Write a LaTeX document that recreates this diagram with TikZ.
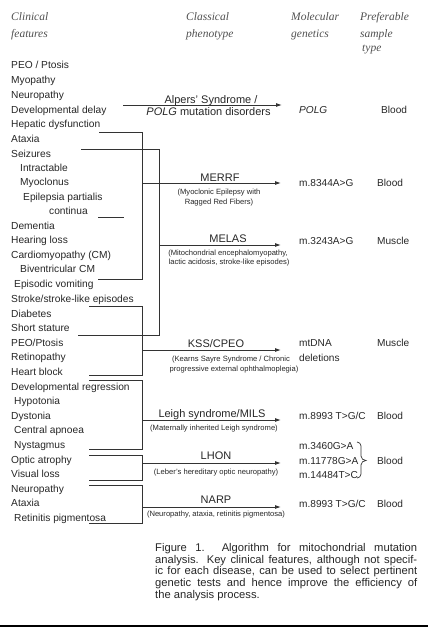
\documentclass[tikz,border=0pt]{standalone}
\usepackage{fontspec}
\setmainfont{Liberation Sans}
\newfontfamily\hdrfont{Liberation Serif}
\usetikzlibrary{arrows.meta}
\definecolor{txt}{HTML}{262626}
\definecolor{hdr}{HTML}{505050}
\definecolor{ln}{HTML}{333333}
\begin{document}
\begin{tikzpicture}[x=1pt,y=-1pt,
  feat/.style={anchor=base west, inner sep=0pt, font=\fontsize{10.2}{12}\selectfont, text=txt},
  head/.style={anchor=base west, inner sep=0pt, font=\hdrfont\itshape\fontsize{11.5}{13}\selectfont, text=hdr},
  pheno/.style={anchor=base, inner sep=0pt, font=\fontsize{11}{13}\selectfont, text=txt},
  desc/.style={anchor=base, inner sep=0pt, font=\fontsize{7.6}{9}\selectfont, text=txt},
  gene/.style={anchor=base west, inner sep=0pt, font=\fontsize{10.1}{12}\selectfont, text=txt},
  conn/.style={draw=ln, line width=0.9pt},
  arr/.style={conn, -{Latex[length=6pt,width=4pt]}},
]
\useasboundingbox (0,0) rectangle (428,627);

% headers
\node[head] (h1) at (11,20) {Clinical};
\node[head] (h2) at (11,37) {features};
\node[head] (h3) at (186,20) {Classical};
\node[head] (h4) at (186,37) {phenotype};
\node[head] (h5) at (291,20) {Molecular};
\node[head] (h6) at (291,37) {genetics};
\node[head] (h7) at (360,20) {Preferable};
\node[head] (h8) at (360,37) {sample};
\node[head] (h9) at (362,51) {type};

% clinical features
\foreach \n/\x/\y/\t in {
  1/11/65/{PEO / Ptosis},
  2/11/80/{Myopathy},
  3/11/95/{Neuropathy},
  4/11/110/{Developmental delay},
  5/11/124/{Hepatic dysfunction},
  6/11/139/{Ataxia},
  7/11/154/{Seizures},
  8/20/168/{Intractable},
  9/20/182/{Myoclonus},
  10/23/197/{Epilepsia partialis},
  11/49/211/{continua},
  12/11/226/{Dementia},
  13/11/240/{Hearing loss},
  14/11/255/{Cardiomyopathy (CM)},
  15/20/269/{Biventricular CM},
  16/14/284/{Episodic vomiting},
  17/11/299/{Stroke/stroke-like episodes},
  18/11/314/{Diabetes},
  19/11/328/{Short stature},
  20/11/343/{PEO/Ptosis},
  21/11/357/{Retinopathy},
  22/11/372/{Heart block},
  23/11/387/{Developmental regression},
  24/14/401/{Hypotonia},
  25/11/416/{Dystonia},
  26/14/430/{Central apnoea},
  27/14/445/{Nystagmus},
  28/11/460/{Optic atrophy},
  29/11/474/{Visual loss},
  30/11/489/{Neuropathy},
  31/11/503/{Ataxia},
  32/14/518/{Retinitis pigmentosa}}
  {\node[feat] (f\n) at (\x,\y+3.6) {\t};}

% phenotypes
\node[pheno] (alp1) at (211,103) {Alpers' Syndrome /};
\node[pheno] (alp2) at (208.5,115.5) {\textit{POLG} mutation disorders};
\node[pheno] (merrf) at (220,181) {MERRF};
\node[desc] (merrfd1) at (219,194) {(Myoclonic Epilepsy with};
\node[desc] (merrfd2) at (219,204) {Ragged Red Fibers)};
\node[pheno] (melas) at (228,242) {MELAS};
\node[desc] (melasd1) at (228,255) {(Mitochondrial encephalomyopathy,};
\node[desc] (melasd2) at (229,264) {lactic acidosis, stroke-like episodes)};
\node[pheno] (kss) at (216,347) {KSS/CPEO};
\node[desc] (kssd1) at (231,361) {(Kearns Sayre Syndrome / Chronic};
\node[desc] (kssd2) at (234,371) {progressive external ophthalmoplegia)};
\node[pheno] (leigh) at (212,417) {Leigh syndrome/MILS};
\node[desc] (leighd) at (214,430) {(Maternally inherited Leigh syndrome)};
\node[pheno] (lhon) at (216,459) {LHON};
\node[desc] (lhond) at (216,474) {(Leber's hereditary optic neuropathy)};
\node[pheno] (narp) at (216,503) {NARP};
\node[desc] (narpd) at (216,516) {(Neuropathy, ataxia, retinitis pigmentosa)};

% genetics and samples
\node[gene] (g1) at (299,113) {\textit{POLG}};
\node[gene] (s1) at (381,113) {Blood};
\node[gene] (g2) at (299,186.5) {m.8344A>G};
\node[gene] (s2) at (377,186.5) {Blood};
\node[gene] (g3) at (299,244.5) {m.3243A>G};
\node[gene] (s3) at (377,244.5) {Muscle};
\node[gene] (g4) at (299,346.5) {mtDNA};
\node[gene] (g4b) at (299,361.5) {deletions};
\node[gene] (s4) at (377,346.5) {Muscle};
\node[gene] (g5) at (299,419.5) {m.8993 T>G/C};
\node[gene] (s5) at (377,419.5) {Blood};
\node[gene] (g6a) at (299,449) {m.3460G>A};
\node[gene] (g6b) at (299,464) {m.11778G>A};
\node[gene] (g6c) at (299,478.5) {m.14484T>C};
\node[gene] (s6) at (377,464.5) {Blood};
\node[gene] (g7) at (299,507) {m.8993 T>G/C};
\node[gene] (s7) at (377,507) {Blood};

% brace for LHON mutations
\draw[conn, line width=0.7pt] (357,442) to[out=0,in=90] (361,446) -- (361,456)
  to[out=-90,in=180] (366,460.5) to[out=180,in=90] (361,465) -- (361,474)
  to[out=-90,in=0] (357,478);

% coordinates for connectors
\coordinate (alpS) at (123,105);   \coordinate (alpE) at (282,105);
\coordinate (mA) at (99,132);  \coordinate (mB) at (142,132);
\coordinate (mC) at (142,279); \coordinate (mD) at (98,279);
\coordinate (mS) at (142,183); \coordinate (mE) at (281,183);
\coordinate (lA) at (81,149);  \coordinate (lB) at (159,149);
\coordinate (lC) at (159,335); \coordinate (lD) at (78,335);
\coordinate (lS) at (159,245); \coordinate (lE) at (281,245);
\coordinate (eA) at (98,217.5);  \coordinate (eB) at (124,217.5);
\coordinate (kA) at (89,306);  \coordinate (kB) at (142,306);
\coordinate (kC) at (142,375); \coordinate (kD) at (89,375);
\coordinate (kS) at (142,350); \coordinate (kE) at (281,350);
\coordinate (iA) at (89,380);  \coordinate (iB) at (142,380);
\coordinate (iC) at (142,449); \coordinate (iD) at (89,449);
\coordinate (iS) at (142,420); \coordinate (iE) at (281,420);
\coordinate (oA) at (89,455);  \coordinate (oB) at (142,455);
\coordinate (oC) at (142,480); \coordinate (oD) at (89,480);
\coordinate (oS) at (142,463); \coordinate (oE) at (281,463);
\coordinate (nA) at (89,485);  \coordinate (nB) at (142,485);
\coordinate (nC) at (142,523); \coordinate (nD) at (89,523);
\coordinate (nS) at (142,507); \coordinate (nE) at (281,507);

\draw[arr] (alpS) -- (alpE);
\draw[conn] (mA) -- (mB) -- (mC) -- (mD);
\draw[arr] (mS) -- (mE);
\draw[conn] (lA) -- (lB) -- (lC) -- (lD);
\draw[arr] (lS) -- (lE);
\draw[conn] (eA) -- (eB);
\draw[conn] (kA) -- (kB) -- (kC) -- (kD);
\draw[arr] (kS) -- (kE);
\draw[conn] (iA) -- (iB) -- (iC) -- (iD);
\draw[arr] (iS) -- (iE);
\draw[conn] (oA) -- (oB) -- (oC) -- (oD);
\draw[arr] (oS) -- (oE);
\draw[conn] (nA) -- (nB) -- (nC) -- (nD);
\draw[arr] (nS) -- (nE);

% caption
\node[anchor=north west, inner sep=0pt, text=txt] (cap) at (155,543) {%
  \parbox{262pt}{\fontsize{11.2}{11.8}\selectfont
  Figure 1.\ \ Algorithm for mitochondrial mutation\linebreak
  analysis. Key clinical features, although not specif-\linebreak
  ic for each disease, can be used to select pertinent\linebreak
  genetic tests and hence improve the efficiency of\linebreak
  the analysis process.}};

% bottom rule
\coordinate (bl) at (0,626); \coordinate (br) at (428,626);
\draw[line width=1.5pt, draw=black] (bl) -- (br);
\end{tikzpicture}
\end{document}
